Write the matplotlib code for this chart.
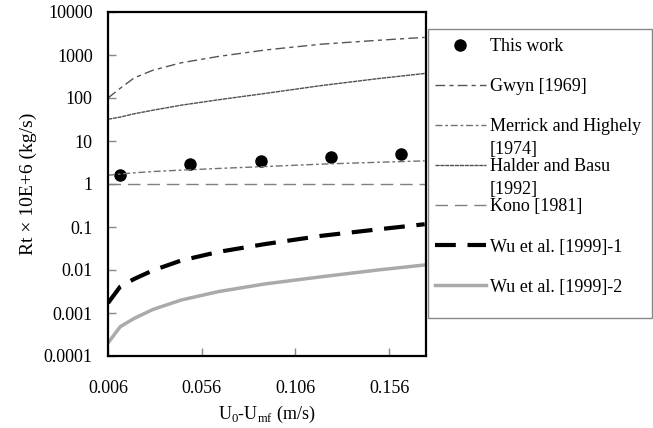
import numpy as np
import matplotlib
matplotlib.use('Agg')
import matplotlib.pyplot as plt
from matplotlib.patches import Rectangle

plt.rcParams['font.family'] = 'Liberation Serif'
plt.rcParams['mathtext.fontset'] = 'custom'
plt.rcParams['mathtext.rm'] = 'Liberation Serif'

# values
x_curve = [0.006, 0.0125, 0.02, 0.03, 0.045, 0.065, 0.09, 0.12, 0.15, 0.175]
gwyn = [100, 168, 294, 443, 658, 927, 1308, 1787, 2197, 2570]
merrick = [1.6, 1.7, 1.82, 1.95, 2.1, 2.3, 2.55, 2.9, 3.2, 3.45]
halder = [32, 36, 43, 52, 68, 91, 128, 195, 282, 372]
kono = [1, 1, 1, 1, 1, 1, 1, 1, 1, 1]
wu1 = [0.0017, 0.0041, 0.0062, 0.0098, 0.0166, 0.0264, 0.0402, 0.0625, 0.088, 0.116]
wu2 = [0.0002, 0.00048, 0.00075, 0.00121, 0.0020, 0.00315, 0.00476, 0.00697, 0.0100, 0.0131]

x_work = [0.0125, 0.05, 0.0875, 0.125, 0.1625]
this_work = [1.6, 2.9, 3.4, 4.2, 5.0]

xticks = [0.006, 0.056, 0.106, 0.156]
xtick_labels = ['0.006', '0.056', '0.106', '0.156']
yticks = [0.0001, 0.001, 0.01, 0.1, 1, 10, 100, 1000, 10000]
ytick_labels = ['0.0001', '0.001', '0.01', '0.1', '1', '10', '100', '1000', '10000']

W, H = 653, 428
fig = plt.figure(figsize=(W / 100, H / 100), dpi=100)
ax = fig.add_axes([108 / W, 1 - 356 / H, (426 - 108) / W, (356 - 12) / H])

ax.plot(x_work, this_work, 'o', color='black', markersize=8, label='This work')
ax.plot(x_curve, gwyn, color='#555555', lw=1, linestyle=(0, (7, 3, 3, 3)), label='Gwyn [1969]')
ax.plot(x_curve, merrick, color='#707070', lw=1, linestyle=(0, (5, 2, 2, 2)), label='Merrick and Highely')
ax.plot(x_curve, halder, color='#505050', lw=1, linestyle=(0, (3, 0.5)), label='Halder and Basu')
ax.plot(x_curve, kono, color='#808080', lw=1, linestyle=(0, (9, 5)), label='Kono [1981]')
ax.plot(x_curve, wu1, color='black', lw=3, linestyle=(0, (5, 2.8)), label='Wu et al. [1999]-1')
ax.plot(x_curve, wu2, color='#aaaaaa', lw=2.5, label='Wu et al. [1999]-2')

ax.set_yscale('log')
ax.set_xlim(0.006, 0.1757)
ax.set_ylim(0.0001, 10000)
ax.set_xticks(xticks)
ax.set_xticklabels(xtick_labels)
ax.set_yticks(yticks)
ax.set_yticklabels(ytick_labels)
ax.minorticks_off()
ax.tick_params(direction='in', length=6, width=1, color='#888888', labelsize=13)
ax.tick_params(axis='y', pad=11)
ax.tick_params(axis='x', pad=17)

for s in ax.spines.values():
    s.set_linewidth(1.6)

ax.set_ylabel('Rt × 10E+6 (kg/s)', fontsize=14, labelpad=5)
ax.set_xlabel(r'U$_\mathregular{0}$-U$_\mathregular{mf}$ (m/s)', fontsize=13, labelpad=5)

leg = fig.legend(loc='upper left', bbox_to_anchor=(435 / W, 1 - 38 / H), frameon=False,
                 fontsize=13, handlelength=2.8, handletextpad=0.25, borderpad=0,
                 borderaxespad=0, labelspacing=1.28)
fig.add_artist(Rectangle((428 / W, 1 - 318 / H), 224 / W, 289 / H, transform=fig.transFigure,
                         fill=False, edgecolor='#888888', lw=1))

# second lines of the wrapped legend labels
fig.canvas.draw()
for i, extra in [(2, '[1974]'), (3, '[1992]')]:
    bb = leg.get_texts()[i].get_window_extent()
    fig.text(bb.x0 / W, (bb.y0 - 23) / H, extra, fontsize=13, va='bottom')

fig.savefig('out.png', dpi=100)
